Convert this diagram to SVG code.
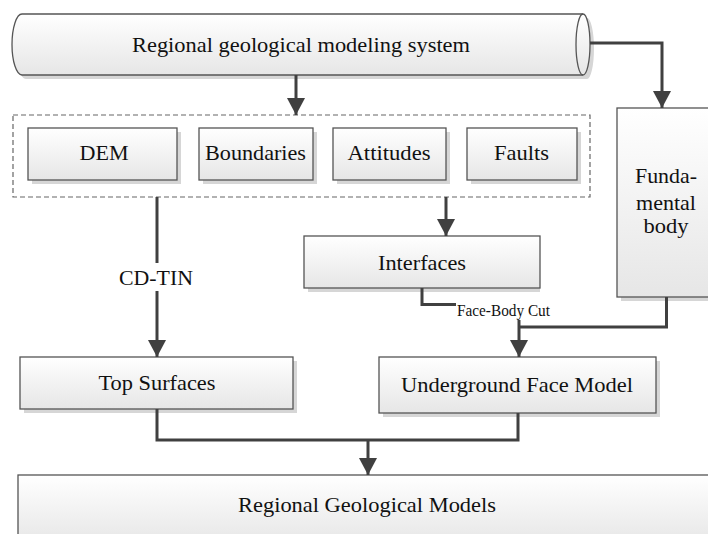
<svg xmlns="http://www.w3.org/2000/svg" width="708" height="534" viewBox="0 0 708 534">
<style>
.box{fill:url(#g);stroke:#555;stroke-width:1.3}
.sh{fill:#d6d6d6}
.t{font-family:"Liberation Serif","Times New Roman",serif;font-size:21px;fill:#111;text-anchor:middle}
.s{font-family:"Liberation Serif","Times New Roman",serif;font-size:16.5px;fill:#111}
.c{fill:none;stroke:#404040;stroke-width:3}
</style>
<defs>
<linearGradient id="g" x1="0" y1="0" x2="0" y2="1">
<stop offset="0" stop-color="#ffffff"/>
<stop offset="1" stop-color="#e6e6e6"/>
</linearGradient>
<marker id="a" markerUnits="userSpaceOnUse" viewBox="0 0 17 18" markerWidth="17" markerHeight="18" refX="17" refY="9" orient="auto">
<path d="M0,0 L17,9 L0,18 z" fill="#404040"/>
</marker>
</defs>
<rect width="708" height="534" fill="#fff"/>

<g id="system">
<path class="sh" d="M26,18 L587,18 A7,30.5 0 0 1 587,79 L26,79 A10,30.5 0 0 1 26,18 Z"/>
<path class="box" d="M22,14 L583,14 A7,30.5 0 0 1 583,75 L22,75 A10,30.5 0 0 1 22,14 Z"/>
<path d="M583,14 A7,30.5 0 0 0 583,75" fill="none" stroke="#555" stroke-width="1.3"/>
<text class="t" x="301" y="52" textLength="338" lengthAdjust="spacingAndGlyphs">Regional geological modeling system</text>
</g>

<g id="sources">
<rect x="13" y="115" width="577" height="82" fill="none" stroke="#666" stroke-width="1.2" stroke-dasharray="5,3"/>
</g>
<g id="dem">
<rect class="sh" x="32" y="132" width="149" height="52"/>
<rect class="box" x="28" y="128" width="149" height="52"/>
<text class="t" x="104" y="160" textLength="49" lengthAdjust="spacingAndGlyphs">DEM</text>
</g>
<g id="boundaries">
<rect class="sh" x="203" y="132" width="114" height="52"/>
<rect class="box" x="199" y="128" width="114" height="52"/>
<text class="t" x="255.5" y="160" textLength="101" lengthAdjust="spacingAndGlyphs">Boundaries</text>
</g>
<g id="attitudes">
<rect class="sh" x="337" y="132" width="113" height="52"/>
<rect class="box" x="333" y="128" width="113" height="52"/>
<text class="t" x="389" y="160" textLength="83" lengthAdjust="spacingAndGlyphs">Attitudes</text>
</g>
<g id="faults">
<rect class="sh" x="471" y="132" width="110" height="52"/>
<rect class="box" x="467" y="128" width="110" height="52"/>
<text class="t" x="521.5" y="160" textLength="55" lengthAdjust="spacingAndGlyphs">Faults</text>
</g>

<g id="fundamental">
<rect class="sh" x="621" y="112" width="92" height="189"/>
<rect class="box" x="617" y="108" width="95" height="189"/>
<text class="t" x="666" y="183" textLength="62" lengthAdjust="spacingAndGlyphs">Funda-</text>
<text class="t" x="666" y="210" textLength="60" lengthAdjust="spacingAndGlyphs">mental</text>
<text class="t" x="666" y="233" textLength="45" lengthAdjust="spacingAndGlyphs">body</text>
</g>

<g id="interfaces">
<rect class="sh" x="308" y="240" width="232" height="52"/>
<rect class="box" x="304" y="236" width="236" height="52"/>
<text class="t" x="422" y="270" textLength="88" lengthAdjust="spacingAndGlyphs">Interfaces</text>
</g>

<g id="top">
<rect class="sh" x="24" y="361" width="273" height="52"/>
<rect class="box" x="20" y="357" width="273" height="52"/>
<text class="t" x="157" y="390" textLength="117" lengthAdjust="spacingAndGlyphs">Top Surfaces</text>
</g>

<g id="underground">
<rect class="sh" x="383" y="361" width="277" height="56"/>
<rect class="box" x="379" y="357" width="277" height="56"/>
<text class="t" x="517" y="392" textLength="232" lengthAdjust="spacingAndGlyphs">Underground Face Model</text>
</g>

<g id="models">
<rect class="sh" x="22" y="479" width="700" height="70"/>
<rect class="box" x="18" y="475" width="700" height="70"/>
<text class="t" x="367" y="512" textLength="258" lengthAdjust="spacingAndGlyphs">Regional Geological Models</text>
</g>

<g id="connectors">
<path class="c" d="M296,75 V115" marker-end="url(#a)"/>
<path class="c" d="M590,43 H662 V108" marker-end="url(#a)"/>
<path class="c" d="M157,197 V263"/>
<path class="c" d="M157,291 V357" marker-end="url(#a)"/>
<text class="t" x="156" y="285" textLength="74" lengthAdjust="spacingAndGlyphs">CD-TIN</text>
<path class="c" d="M446,197 V236" marker-end="url(#a)"/>
<path class="c" d="M422,288 V304.5 H456"/>
<text class="s" x="457" y="316" textLength="93" lengthAdjust="spacingAndGlyphs">Face-Body Cut</text>
<path class="c" d="M666.5,297 V327 H519"/>
<path class="c" d="M519,320 V357" marker-end="url(#a)"/>
<path class="c" d="M157,409 V440 H518 V413"/>
<path class="c" d="M368,440 V475" marker-end="url(#a)"/>
</g>
</svg>
